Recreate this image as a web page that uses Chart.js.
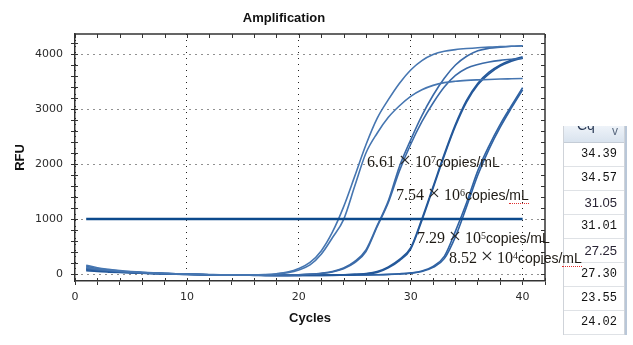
<!DOCTYPE html>
<html><head><meta charset="utf-8">
<script src="https://cdn.jsdelivr.net/npm/chart.js@4.4.1/dist/chart.umd.min.js"></script>
<style>
html,body{margin:0;padding:0;background:#fff;width:633px;height:345px;overflow:hidden;position:relative}
#wrap{position:absolute;left:0;top:0;width:568px;height:345px}
.lab{position:absolute;white-space:nowrap;font-family:"Liberation Serif","Times New Roman",serif;font-size:16px;line-height:16px;color:#1e1a14}
.lab .x{display:inline-block;width:20px;text-align:center;font-family:"Liberation Serif",serif;font-size:22px;line-height:16px;color:#2a2a2a}
.lab sup{font-size:10px;vertical-align:baseline;position:relative;top:-4.5px;line-height:0}
.lab .cp{font-family:"Liberation Sans",Arial,sans-serif;font-size:14px}
.lab .sp{border-bottom:1px dotted #e03030}
#tbl{position:absolute;left:563px;top:126px;width:60px;border-left:1px solid #cfd3d9;border-right:1px solid #cfd3d9}
#tbl .hd{height:16px;border-bottom:1px solid #c4ccd6;background:linear-gradient(#eef3f9,#d9e3ee);position:relative;overflow:hidden}
#tbl .hd .cq{position:absolute;left:13px;top:-9px;font-family:"Liberation Sans",Arial,sans-serif;font-size:14px;color:#2a3a55}
#tbl .hd .ar{position:absolute;right:6px;top:-2px;font-family:"Liberation Sans",Arial,sans-serif;font-size:12px;color:#5a6a80}
#tbl .row{height:23px;line-height:23px;border-bottom:1px solid #dfe2e6;text-align:right;padding-right:7px;color:#111}
#tbl .mono{font-family:"Liberation Mono",monospace;font-size:12px}
#tbl .sans{font-family:"Liberation Sans",Arial,sans-serif;font-size:13px;color:#2a2535}
#edge{position:absolute;left:625px;top:126px;width:2px;height:209px;background:#b9c7d8}
</style>
</head><body>
<div id="wrap"><canvas id="c" width="568" height="345"></canvas></div>
<div id="tbl"></div>
<div id="edge"></div>
<script>
// ---- data ----
const cycles = [1,2,3,4,5,6,7,8,9,10,11,12,13,14,15,16,17,18,19,20,21,22,23,24,25,26,27,28,29,30,31,32,33,34,35,36,37,38,39,40];
const thresholdCycles = [1, 40];
const thresholdRFU = [1000, 1000];

const rfuA = [160,115,85,62,45,32,22,14,6,0, -6,-10,-14,-16,-18,-18,-10,5,35,100, 210,420,760,1220,1780,2350,2830,3170,3470,3710, 3880,3990,4050,4080,4100,4115,4125,4135,4140,4150];
const rfuB = [120,90,68,50,36,25,16,8,2,-4, -9,-13,-16,-18,-20,-20,-15,-2,25,75, 165,360,660,990,1600,2200,2560,2850,3060,3230, 3350,3430,3480,3505,3520,3530,3538,3545,3550,3555];
const rfuC = [140,100,75,55,40,28,18,10,3,-3, -8,-12,-15,-18,-20,-21,-21,-20,-18,-12, -2,15,45,110,230,440,880,1330,1960,2440, 2880,3250,3560,3800,3960,4060,4105,4125,4140,4150];
const rfuD = [100,75,58,44,32,22,14,7,1,-4, -9,-13,-16,-19,-21,-22,-22,-21,-19,-14, -5,10,38,95,205,410,860,1300,1880,2360, 2770,3110,3400,3610,3740,3810,3855,3885,3905,3920];
const rfuE = [80,60,46,35,25,17,10,4,-1,-6, -10,-14,-17,-20,-22,-23,-24,-24,-24,-23, -22,-20,-17,-13,-6,5,30,115,245,455, 975,1560,2150,2690,3130,3440,3640,3780,3870,3930];
const rfuF = [60,45,35,27,20,13,7,2,-3,-7, -11,-15,-18,-21,-23,-24,-25,-25,-25,-24, -23,-21,-18,-14,-7,8,45,130,265,480, 1005,1590,2180,2720,3160,3470,3670,3800,3890,3950];
const rfuG = [110,82,62,46,33,23,15,8,2,-3, -8,-12,-15,-18,-20,-22,-23,-24,-25,-25, -25,-24,-23,-21,-19,-16,-12,-6,4,20, 55,140,320,780,1300,1880,2330,2720,3060,3390];
const rfuH = [90,68,52,40,29,20,12,6,0,-5, -9,-13,-16,-19,-21,-23,-24,-25,-26,-26, -26,-25,-24,-22,-20,-17,-13,-8,0,14, 45,120,280,680,1230,1800,2270,2670,3020,3350];

const xTickLabels = [0,10,20,30,40];
const yTickLabels = [0,1000,2000,3000,4000];
const cqValues = ['34.39','34.57','31.05','31.01','27.25','27.30','23.55','24.02'];
const concMantissas = ['6.61','7.54','7.29','8.52'];
const concExponents = ['7','6','5','4'];
const concUnit = 'copies/';
const concUnitEnd = 'mL';

// ---- layout / style (not data) ----
const cqFontClass = ['mono','mono','sans','mono','sans','mono','mono','mono'];
const labelPos = [[367,152,false],[396,185,true],[417,228,false],[449,248,true]];

const curves = [rfuA,rfuB,rfuC,rfuD,rfuE,rfuF,rfuG,rfuH];
const curveColors = ['#4676b1','#4676b1','#3a6aa8','#3a6aa8','#24589a','#24589a','#2f62a3','#2f62a3'];
const toPts = (xs, ys) => xs.map((x,i) => ({x, y: ys[i]}));

const datasets = [{
  data: toPts(thresholdCycles, thresholdRFU),
  borderColor: '#0c4a8c', borderWidth: 2.6, pointRadius: 0, tension: 0
}];
curves.forEach((c,i) => datasets.push({
  data: toPts(cycles, c), borderColor: curveColors[i], borderWidth: 1.6,
  pointRadius: 0, cubicInterpolationMode: 'monotone'
}));

const framePlugin = {
  id: 'frame',
  afterDraw(chart) {
    const {ctx, chartArea: a, scales: {x, y}} = chart;
    ctx.save();
    ctx.strokeStyle = '#333'; ctx.lineWidth = 1.5;
    ctx.beginPath();
    ctx.moveTo(a.left, a.top); ctx.lineTo(a.right, a.top);
    ctx.moveTo(a.right, a.top); ctx.lineTo(a.right, a.bottom);
    ctx.stroke();
    ctx.lineWidth = 1;
    ctx.beginPath();
    x.ticks.forEach(t => {
      const px = Math.round(x.getPixelForValue(t.value)) + 0.5;
      ctx.moveTo(px, a.top); ctx.lineTo(px, a.top + 4);
      ctx.moveTo(px, a.bottom); ctx.lineTo(px, a.bottom - 3);
    });
    y.ticks.forEach(t => {
      const py = Math.round(y.getPixelForValue(t.value)) + 0.5;
      ctx.moveTo(a.left, py); ctx.lineTo(a.left + 3, py);
      ctx.moveTo(a.right, py); ctx.lineTo(a.right - 4, py);
    });
    ctx.stroke();
    ctx.restore();
  }
};

const tickFont = {family: '"DejaVu Sans", Verdana, sans-serif', size: 11};
const titleFont = {family: '"Liberation Sans", Arial, sans-serif', size: 13, weight: 'bold'};

new Chart(document.getElementById('c'), {
  type: 'line',
  data: {datasets},
  options: {
    responsive: false, animation: false, devicePixelRatio: 1,
    layout: {padding: {left: 23, top: 0, bottom: 0, right: 23}},
    plugins: {
      legend: {display: false}, tooltip: {enabled: false},
      title: {display: true, text: 'Amplification', color: '#111', font: titleFont, padding: {top: 10.7, bottom: 7.7}}
    },
    scales: {
      x: {
        type: 'linear', min: 0, max: 42,
        afterFit: s => { s.height = 64; },
        ticks: {stepSize: 2, autoSkip: false, maxRotation: 0, padding: 6, color: '#2b2b2b', font: tickFont,
          callback: v => xTickLabels.includes(v) ? String(v) : ''},
        grid: {color: c => (c.tick && xTickLabels.includes(c.tick.value)) ? '#222' : 'rgba(0,0,0,0)',
          tickColor: '#333', tickLength: 4, lineWidth: 1},
        border: {display: true, color: '#333', width: 1.5, dash: [1, 5]},
        title: {display: true, text: 'Cycles', color: '#111', font: titleFont, padding: {top: 0, bottom: 19.2}}
      },
      y: {
        type: 'linear', min: -127, max: 4364,
        afterFit: s => { s.width = 52; },
        ticks: {stepSize: 200, autoSkip: false, includeBounds: false, padding: 8, color: '#2b2b2b', font: tickFont,
          callback: v => yTickLabels.includes(v) ? String(v) : ''},
        grid: {color: c => (c.tick && yTickLabels.includes(c.tick.value)) ? '#222' : 'rgba(0,0,0,0)',
          tickColor: '#333', tickLength: 4, lineWidth: 1},
        border: {display: true, color: '#333', width: 1.5, dash: [1, 5]},
        title: {display: true, text: 'RFU', color: '#111', font: titleFont, padding: {top: -10.8, bottom: 0}}
      }
    }
  },
  plugins: [framePlugin]
});

// concentration labels
concMantissas.forEach((m, i) => {
  const [left, top, spell] = labelPos[i];
  const d = document.createElement('div');
  d.className = 'lab';
  d.style.left = left + 'px'; d.style.top = top + 'px';
  d.innerHTML = m + '<span class="x">×</span>10<sup>' + concExponents[i] + '</sup><span class="cp">' + concUnit +
    (spell ? '<span class="sp">' + concUnitEnd + '</span>' : concUnitEnd) + '</span>';
  document.body.appendChild(d);
});

// Cq column
const tbl = document.getElementById('tbl');
tbl.innerHTML = '<div class="hd"><span class="cq">Cq</span><span class="ar">v</span></div>' +
  cqValues.map((v, i) => '<div class="row ' + cqFontClass[i] + '">' + v + '</div>').join('');
</script>
</body></html>
